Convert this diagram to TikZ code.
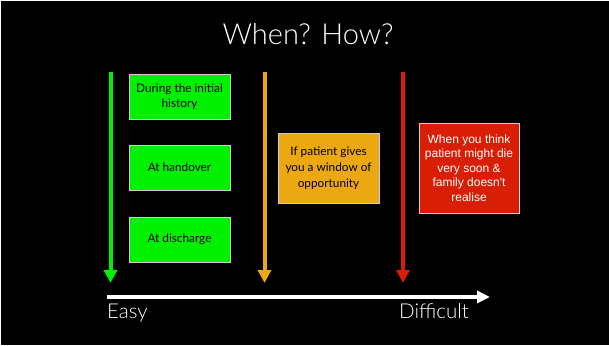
\documentclass[tikz,border=0pt]{standalone}
\usepackage{fontspec}
\setmainfont{Lato}
\newfontfamily\lightfont{Lato Light}
\newfontfamily\helv{Liberation Sans}
\usetikzlibrary{arrows.meta}
\definecolor{boxgreen}{RGB}{0,240,0}
\definecolor{boxorange}{RGB}{236,168,18}
\definecolor{boxred}{RGB}{216,30,4}
\definecolor{boxedge}{RGB}{205,205,205}
\begin{document}
\begin{tikzpicture}[x=1pt,y=-1pt,
  card/.style={draw=boxedge, line width=1pt, inner sep=0pt, align=center,
    minimum width=101pt},
  greencard/.style={card, fill=boxgreen, minimum height=45pt,
    font=\fontsize{11.8}{15}\selectfont, text=black},
  orangecard/.style={card, fill=boxorange, minimum height=70pt,
    font=\fontsize{11.8}{16}\selectfont, text=black},
  redcard/.style={card, fill=boxred, minimum width=100pt, minimum height=90pt,
    font=\helv\fontsize{12}{14.6}\selectfont, text=white},
  timearrow/.style={line width=4pt, -{Triangle[width=13pt,length=13pt]}},
  axislabel/.style={text=white, inner sep=0pt, font=\lightfont\fontsize{20.5}{24}\selectfont}
]
% slide background
\useasboundingbox (0,0) rectangle (609,345);
\fill[white] (0,0) rectangle (609,345);
\fill[black] (1,1) rectangle (609,345);

% heading
\node[axislabel, anchor=base, font=\lightfont\fontsize{29}{34}\selectfont] (title) at (308,45) {When? How?};

% vertical timing arrows
\coordinate (gtop) at (110.5,72);
\coordinate (gend) at (110.5,283);
\coordinate (otop) at (264.5,72);
\coordinate (oend) at (264.5,283);
\coordinate (rtop) at (403,72);
\coordinate (rend) at (403,283);
\draw[timearrow, boxgreen] (gtop) -- (gend);
\draw[timearrow, boxorange] (otop) -- (oend);
\draw[timearrow, boxred] (rtop) -- (rend);

% moments
\node[greencard] (initial) at (179.5,96.5) {During the initial\\history};
\node[greencard] (handover) at (179.5,167.5) {At handover};
\node[greencard] (discharge) at (179.5,239.5) {At discharge};
\node[orangecard] (window) at (328.5,168) {If patient gives\\you a window of\\opportunity};
\node[redcard] (dying) at (469,168) {When you think\\patient might die\\very soon \&\\family doesn't\\realise};

% difficulty scale
\coordinate (easyend) at (107,297);
\coordinate (hardend) at (490,297);
\draw[white, line width=4pt, -{Triangle[width=12pt,length=13pt]}] (easyend) -- (hardend);
\node[axislabel, anchor=base west] (easy) at (107,318) {Easy};
\node[axislabel, anchor=base west] (difficult) at (399,318) {Difficult};
\end{tikzpicture}
\end{document}
